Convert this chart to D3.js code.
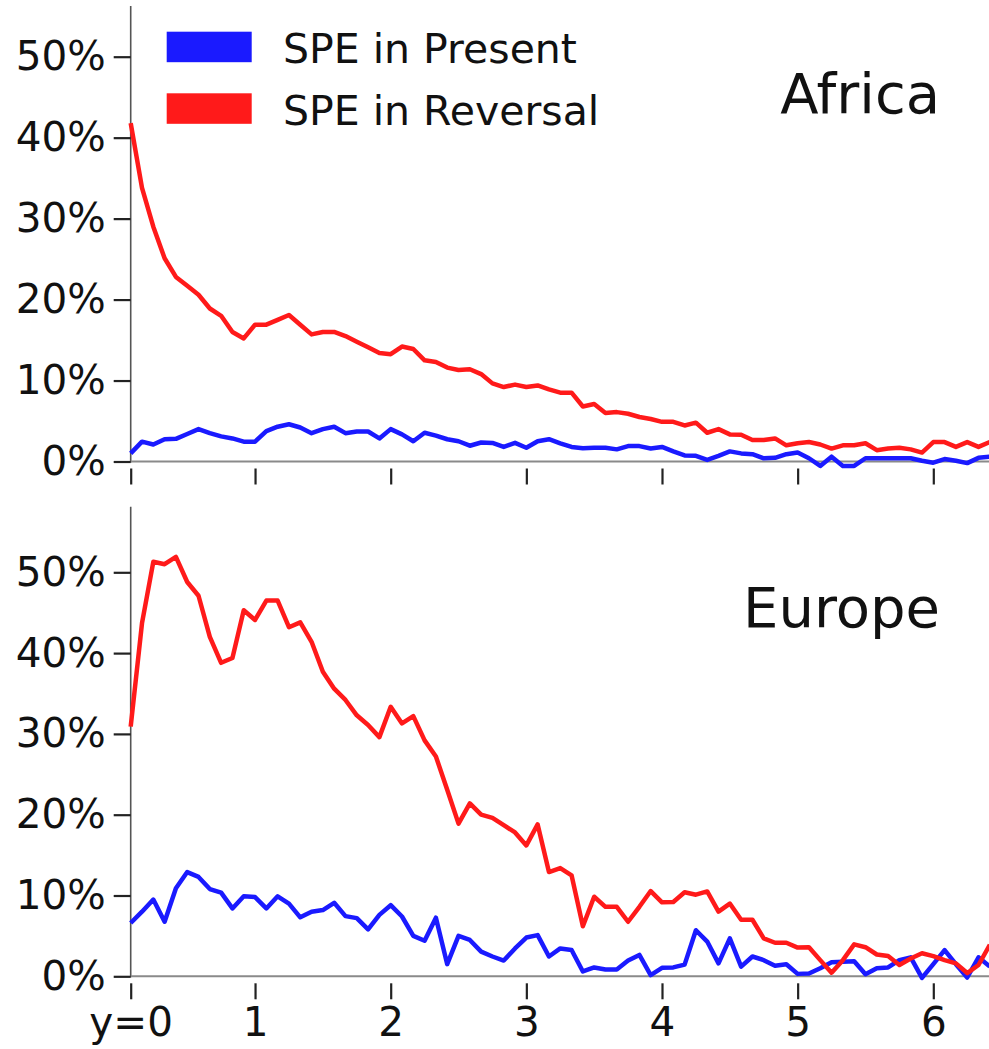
<!DOCTYPE html>
<html>
<head>
<meta charset="utf-8">
<script src="https://cdn.jsdelivr.net/npm/d3@7"></script>
<style>
  html, body { margin: 0; padding: 0; background: #fff; }
  svg { display: block; font-family: "DejaVu Sans", sans-serif; }
</style>
</head>
<body>
<svg id="chart" width="989" height="1049"></svg>
<script>
// Monthly share of SPE, month index 0..76 after the event (y = years)
const months = d3.range(0, 77);

const africaPresent = [
  1.0, 2.45, 2.1, 2.75, 2.8, 3.4, 4.0, 3.5, 3.1, 2.85,
  2.45, 2.45, 3.75, 4.3, 4.6, 4.2, 3.5, 4.0, 4.3, 3.5,
  3.7, 3.7, 2.85, 4.0, 3.35, 2.5, 3.55, 3.2, 2.75, 2.5,
  1.95, 2.35, 2.3, 1.8, 2.3, 1.7, 2.5, 2.75, 2.25, 1.8,
  1.65, 1.7, 1.7, 1.5, 1.9, 1.9, 1.6, 1.8, 1.25, 0.75,
  0.7, 0.2, 0.7, 1.25, 1.0, 0.9, 0.4, 0.45, 0.9, 1.1,
  0.4, -0.55, 0.6, -0.55, -0.55, 0.4, 0.4, 0.4, 0.4, 0.4,
  0.1, -0.15, 0.3, 0.1, -0.2, 0.45, 0.6
];

const africaReversal = [
  41.8, 33.8, 29.0, 25.1, 22.8, 21.7, 20.6, 18.9, 18.0, 16.0,
  15.2, 16.9, 16.9, 17.5, 18.1, 16.9, 15.7, 16.0, 16.0, 15.5,
  14.8, 14.1, 13.4, 13.25, 14.2, 13.9, 12.5, 12.3, 11.6, 11.3,
  11.4, 10.8, 9.65, 9.2, 9.5, 9.2, 9.4, 8.9, 8.5, 8.5,
  6.8, 7.1, 6.0, 6.1, 5.9, 5.5, 5.25, 4.9, 4.9, 4.45,
  4.8, 3.55, 4.0, 3.35, 3.3, 2.65, 2.65, 2.85, 2.0, 2.25,
  2.4, 2.1, 1.6, 2.0, 2.0, 2.25, 1.4, 1.6, 1.7, 1.5,
  1.1, 2.4, 2.4, 1.8, 2.4, 1.8, 2.4
];

const europePresent = [
  6.6, 8.0, 9.5, 6.75, 10.9, 12.9, 12.3, 10.8, 10.35, 8.4,
  9.9, 9.8, 8.4, 9.9, 9.0, 7.3, 8.0, 8.2, 9.1, 7.45,
  7.2, 5.8, 7.6, 8.8, 7.4, 5.0, 4.4, 7.25, 1.5, 5.0,
  4.5, 3.05, 2.45, 1.95, 3.45, 4.8, 5.1, 2.45, 3.45, 3.25,
  0.6, 1.1, 0.85, 0.85, 1.95, 2.65, 0.15, 1.05, 1.1, 1.45,
  5.7, 4.3, 1.6, 4.7, 1.2, 2.45, 2.0, 1.3, 1.5, 0.3,
  0.35, 1.0, 1.75, 1.8, 1.85, 0.25, 1.0, 1.1, 2.0, 2.35,
  -0.2, 1.5, 3.25, 1.5, -0.15, 2.35, 1.2
];

const europeReversal = [
  30.9, 43.7, 51.3, 51.0, 51.9, 48.8, 47.1, 42.0, 38.8, 39.4,
  45.3, 44.1, 46.5, 46.5, 43.2, 43.8, 41.4, 37.7, 35.6, 34.2,
  32.3, 31.1, 29.6, 33.35, 31.3, 32.2, 29.2, 27.2, 23.1, 18.9,
  21.4, 20.0, 19.6, 18.7, 17.8, 16.2, 18.8, 12.9, 13.4, 12.5,
  6.2, 9.85, 8.6, 8.6, 6.75, 8.6, 10.55, 9.15, 9.2, 10.4,
  10.1, 10.5, 8.0, 9.0, 7.0, 7.0, 4.7, 4.15, 4.15, 3.55,
  3.6, 2.0, 0.45, 2.0, 3.95, 3.6, 2.7, 2.5, 1.4, 2.2,
  2.85, 2.5, 2.0, 1.6, 0.4, 1.4, 3.9
];

// Axis ticks: one mark per year, labels below the lower panel only
const xTickMonths = [0, 11, 23, 35, 47, 59, 71];
const xTickLabels = ["y=0", "1", "2", "3", "4", "5", "6"];
const yTickValues = [0, 10, 20, 30, 40, 50];
const yTickLabels = ["0%", "10%", "20%", "30%", "40%", "50%"];

const seriesNames = ["SPE in Present", "SPE in Reversal"];
const seriesColors = ["#1a1aff", "#ff1a1a"];

const panels = [
  { title: "Africa", present: africaPresent, reversal: africaReversal,
    zeroY: 461.5, fiftyY: 56.7, spineTop: 6, titleBaseline: 113, showXLabels: false, legend: true },
  { title: "Europe", present: europePresent, reversal: europeReversal,
    zeroY: 976.3, fiftyY: 572.3, spineTop: 506.7, titleBaseline: 627, showXLabels: true, legend: false }
];

const svg = d3.select("#chart");
const W = 989;

const x = d3.scaleLinear().domain([0, 71]).range([130.7, 933.3]);

panels.forEach(p => {
  const y = d3.scaleLinear().domain([0, 50]).range([p.zeroY, p.fiftyY]);
  const g = svg.append("g");

  // left spine
  g.append("line")
    .attr("x1", x(0)).attr("x2", x(0))
    .attr("y1", p.spineTop).attr("y2", y(0) + 1)
    .attr("stroke", "#555").attr("stroke-width", 1.6);

  // zero reference line
  g.append("line")
    .attr("x1", x(0)).attr("x2", W)
    .attr("y1", y(0)).attr("y2", y(0))
    .attr("stroke", "#8a8a8a").attr("stroke-width", 2);

  // y axis ticks and labels
  const yAxis = d3.axisLeft(y)
    .tickValues(yTickValues)
    .tickFormat((d, i) => yTickLabels[i])
    .tickSize(17)
    .tickPadding(8);
  const ya = g.append("g").attr("transform", `translate(${x(0)},0)`).call(yAxis);
  ya.select(".domain").remove();
  ya.selectAll(".tick line").attr("stroke", "#222").attr("stroke-width", 2.2);
  ya.selectAll(".tick text")
    .attr("font-family", "DejaVu Sans")
    .attr("font-size", 40.5)
    .attr("fill", "#111");

  // x axis ticks (offset below the zero line)
  const xAxis = d3.axisBottom(x)
    .tickValues(xTickMonths)
    .tickFormat((d, i) => p.showXLabels ? xTickLabels[i] : "")
    .tickSize(16)
    .tickPadding(8);
  const xa = g.append("g").attr("transform", `translate(0,${y(0) + 7})`).call(xAxis);
  xa.select(".domain").remove();
  xa.selectAll(".tick line").attr("stroke", "#222").attr("stroke-width", 2.2);
  xa.selectAll(".tick text")
    .attr("font-family", "DejaVu Sans")
    .attr("font-size", 40.5)
    .attr("fill", "#111");

  // series lines
  const line = d3.line()
    .x((d, i) => x(months[i]))
    .y(d => y(d));
  [p.present, p.reversal].forEach((vals, k) => {
    g.append("path")
      .datum(vals)
      .attr("d", line)
      .attr("fill", "none")
      .attr("stroke", seriesColors[k])
      .attr("stroke-width", 4.5)
      .attr("stroke-linejoin", "round")
      .attr("stroke-linecap", "butt");
  });

  // panel title
  g.append("text")
    .attr("x", 940).attr("y", p.titleBaseline)
    .attr("text-anchor", "end")
    .attr("font-family", "DejaVu Sans")
    .attr("font-size", 56)
    .attr("fill", "#111")
    .text(p.title);

  if (p.legend) {
    const lg = g.append("g");
    seriesNames.forEach((name, k) => {
      const top = 31.7 + k * 61.6;
      lg.append("rect")
        .attr("x", 166.7).attr("y", top)
        .attr("width", 85).attr("height", 30.5)
        .attr("fill", seriesColors[k]);
      lg.append("text")
        .attr("x", 283).attr("y", top + 31.5)
        .attr("font-family", "DejaVu Sans")
        .attr("font-size", 41)
        .attr("fill", "#111")
        .text(name);
    });
  }
});
</script>
</body>
</html>
